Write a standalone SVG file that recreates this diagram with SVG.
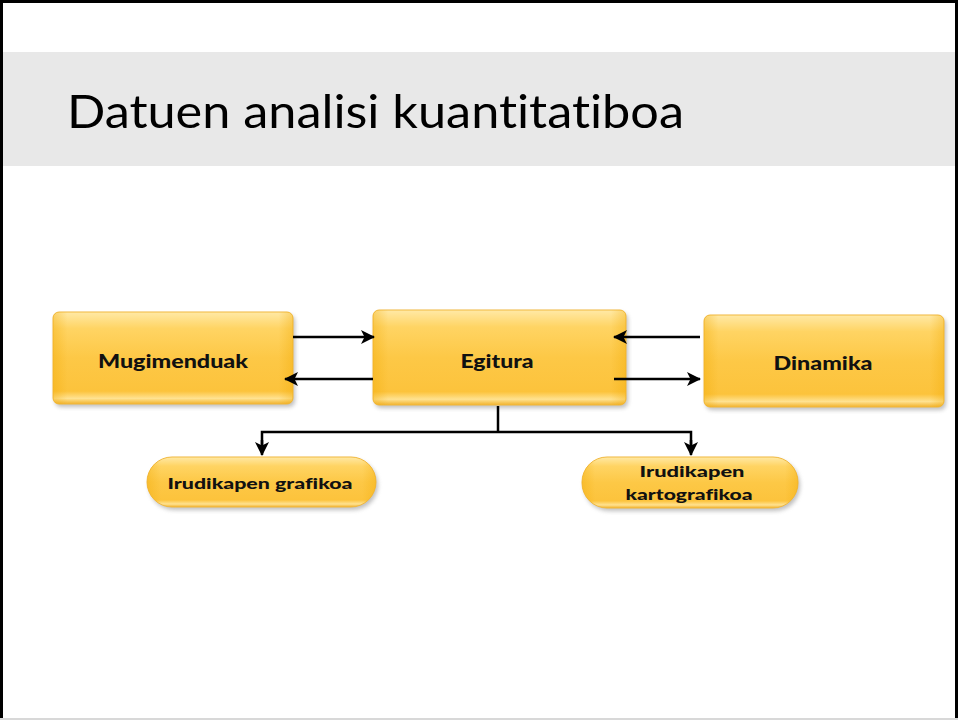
<svg xmlns="http://www.w3.org/2000/svg" width="958" height="720" viewBox="0 0 958 720">
  <defs>
    <linearGradient id="boxV" x1="0" y1="0" x2="0" y2="1">
      <stop offset="0" stop-color="#FFE9A6"/>
      <stop offset="0.18" stop-color="#FFD463"/>
      <stop offset="0.5" stop-color="#FDC846"/>
      <stop offset="0.86" stop-color="#FCC33C"/>
      <stop offset="0.94" stop-color="#FFE291"/>
      <stop offset="1" stop-color="#F1B22B"/>
    </linearGradient>
    <linearGradient id="boxH" x1="0" y1="0" x2="1" y2="0">
      <stop offset="0" stop-color="#F0A800" stop-opacity="0.35"/>
      <stop offset="0.06" stop-color="#F0A800" stop-opacity="0"/>
      <stop offset="0.94" stop-color="#F0A800" stop-opacity="0"/>
      <stop offset="1" stop-color="#F0A800" stop-opacity="0.35"/>
    </linearGradient>
    <filter id="shadow" x="-10%" y="-20%" width="120%" height="150%">
      <feGaussianBlur stdDeviation="2"/>
    </filter>
    <marker id="arrow" viewBox="0 0 14 14" refX="13" refY="7" markerWidth="14" markerHeight="14" markerUnits="userSpaceOnUse" orient="auto">
      <path d="M0,0 L14,7 L0,14 L3.5,7 z" fill="#000"/>
    </marker>
    <style>
      .shadow { fill: #8a8a8a; opacity: 0.55; filter: url(#shadow); }
      .body { fill: url(#boxV); stroke: #F2B93E; stroke-width: 1; }
      .edge { fill: url(#boxH); }
      .lbl { font-family: "Lato", "DejaVu Sans", sans-serif; font-weight: 900; fill: #111; text-anchor: middle; font-variant-ligatures: none; }
      .conn { stroke: #000; stroke-width: 2.5; fill: none; }
    </style>
  </defs>

  <rect x="0" y="0" width="958" height="720" fill="#fff"/>
  <rect x="2" y="52" width="954" height="114" fill="#E8E8E8"/>
  <text x="67" y="128" font-family="Lato, 'Open Sans', sans-serif" font-size="47" font-weight="400" fill="#000" style="font-variant-ligatures: none" textLength="617" lengthAdjust="spacingAndGlyphs">Datuen analisi kuantitatiboa</text>

  <g id="mugimenduak">
    <rect class="shadow" x="55" y="315" width="240" height="92" rx="6"/>
    <rect class="body" x="53" y="312" width="240" height="92" rx="6"/>
    <rect class="edge" x="53" y="312" width="240" height="92" rx="6"/>
    <text class="lbl" x="173" y="368" font-size="18" textLength="150" lengthAdjust="spacingAndGlyphs">Mugimenduak</text>
  </g>

  <g id="egitura">
    <rect class="shadow" x="375" y="313" width="253" height="95" rx="6"/>
    <rect class="body" x="373" y="310" width="253" height="95" rx="6"/>
    <rect class="edge" x="373" y="310" width="253" height="95" rx="6"/>
    <text class="lbl" x="497" y="368" font-size="18" textLength="73" lengthAdjust="spacingAndGlyphs">Egitura</text>
  </g>

  <g id="dinamika">
    <rect class="shadow" x="706" y="318" width="240" height="92" rx="6"/>
    <rect class="body" x="704" y="315" width="240" height="92" rx="6"/>
    <rect class="edge" x="704" y="315" width="240" height="92" rx="6"/>
    <text class="lbl" x="823" y="370" font-size="18" textLength="99" lengthAdjust="spacingAndGlyphs">Dinamika</text>
  </g>

  <g id="irudikapen-grafikoa">
    <rect class="shadow" x="149" y="460" width="229" height="50" rx="25"/>
    <rect class="body" x="147" y="457" width="229" height="50" rx="25"/>
    <rect class="edge" x="147" y="457" width="229" height="50" rx="25"/>
    <text class="lbl" x="260" y="489" font-size="14.5" textLength="185" lengthAdjust="spacingAndGlyphs">Irudikapen grafikoa</text>
  </g>

  <g id="irudikapen-kartografikoa">
    <rect class="shadow" x="584" y="460" width="216" height="51" rx="25"/>
    <rect class="body" x="582" y="457" width="216" height="51" rx="25"/>
    <rect class="edge" x="582" y="457" width="216" height="51" rx="25"/>
    <text class="lbl" x="692" y="477" font-size="14.5" textLength="105" lengthAdjust="spacingAndGlyphs">Irudikapen</text>
    <text class="lbl" x="689" y="500" font-size="14.5" textLength="127" lengthAdjust="spacingAndGlyphs">kartografikoa</text>
  </g>

  <g id="connectors">
    <line class="conn" x1="293" y1="337" x2="374" y2="337" marker-end="url(#arrow)"/>
    <line class="conn" x1="373" y1="379" x2="285" y2="379" marker-end="url(#arrow)"/>
    <line class="conn" x1="700" y1="337" x2="614" y2="337" marker-end="url(#arrow)"/>
    <line class="conn" x1="614" y1="379" x2="700" y2="379" marker-end="url(#arrow)"/>
    <polyline class="conn" points="498,406 498,432"/>
    <polyline class="conn" points="262,448 262,432 691,432 691,448"/>
    <line class="conn" x1="262" y1="440" x2="262" y2="455" marker-end="url(#arrow)"/>
    <line class="conn" x1="691" y1="440" x2="691" y2="455" marker-end="url(#arrow)"/>
  </g>

  <rect x="1.5" y="1.5" width="955" height="720" fill="none" stroke="#000" stroke-width="3"/>
  <line x1="0" y1="719" x2="958" y2="719" stroke="#D8D8D8" stroke-width="2"/>
</svg>
